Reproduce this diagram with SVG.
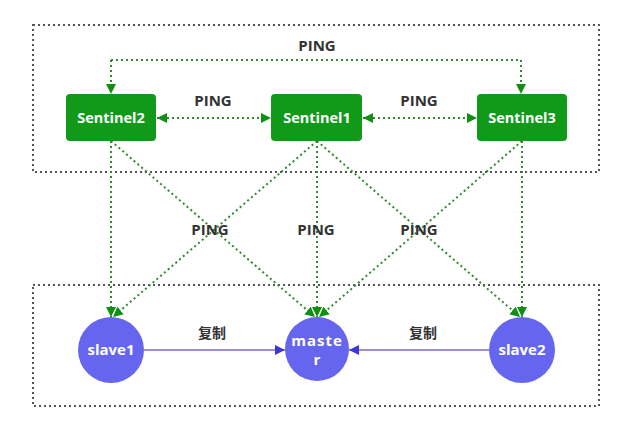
<svg xmlns="http://www.w3.org/2000/svg" width="643" height="423" viewBox="0 0 643 423">
  <style>
    .frame { fill: none; stroke: #555; stroke-width: 2; stroke-dasharray: 2 3; }
    .ping { fill: none; stroke: #2f8a2f; stroke-width: 2; stroke-dasharray: 2 3; }
    .sent rect { fill: #119a1a; }
    .sent text { fill: #fff; font: bold 14.5px "Open Sans", "Liberation Sans", sans-serif; text-anchor: middle; }
    .redis circle { fill: #6565f0; }
    .redis text { fill: #fff; font: bold 15px "Open Sans", "Liberation Sans", sans-serif; text-anchor: middle; }
    .lbl { fill: #333; font: bold 15px "Open Sans", "Liberation Sans", sans-serif; text-anchor: middle; }
    .cn { fill: #333; font: bold 14px "Noto Sans CJK SC", sans-serif; text-anchor: middle; }
    .repl { stroke: #9a90d8; stroke-width: 2; fill: none; }
  </style>
  <defs>
    <marker id="g" viewBox="0 0 10 10" refX="10" refY="5" markerWidth="10" markerHeight="10" markerUnits="userSpaceOnUse" orient="auto-start-reverse">
      <path d="M0,0 L10,5 L0,10 z" fill="#109010"/>
    </marker>
    <marker id="b" viewBox="0 0 10 10" refX="10" refY="5" markerWidth="10" markerHeight="10" markerUnits="userSpaceOnUse" orient="auto">
      <path d="M0,0 L10,5 L0,10 z" fill="#3b36d6"/>
    </marker>
  </defs>

  <rect width="643" height="423" fill="#fff"/>

  <!-- group frames -->
  <rect class="frame" x="33" y="25" width="566" height="147"/>
  <rect class="frame" x="33" y="285" width="566" height="121"/>

  <g id="connectors">
    <!-- sentinel to sentinel -->
    <path class="ping" d="M111,60 H521" />
    <path class="ping" d="M111,60 V94" marker-end="url(#g)"/>
    <path class="ping" d="M521,60 V94" marker-end="url(#g)"/>
    <path class="ping" d="M157,118 H271" marker-start="url(#g)" marker-end="url(#g)"/>
    <path class="ping" d="M363,118 H477" marker-start="url(#g)" marker-end="url(#g)"/>
    <!-- sentinel to redis -->
    <path class="ping" d="M111,141 L111,317" marker-end="url(#g)"/>
    <path class="ping" d="M111,141 L315,317" marker-end="url(#g)"/>
    <path class="ping" d="M317,141 L113,317" marker-end="url(#g)"/>
    <path class="ping" d="M317,141 L317,317" marker-end="url(#g)"/>
    <path class="ping" d="M317,141 L520,317" marker-end="url(#g)"/>
    <path class="ping" d="M522,141 L319,317" marker-end="url(#g)"/>
    <path class="ping" d="M522,141 L522,317" marker-end="url(#g)"/>
    <!-- replication -->
    <path class="repl" d="M144,350 H285" marker-end="url(#b)"/>
    <path class="repl" d="M489,350 H349" marker-end="url(#b)"/>
  </g>

  <g id="labels">
    <text class="lbl" x="317" y="51">PING</text>
    <text class="lbl" x="213" y="106">PING</text>
    <text class="lbl" x="419" y="106">PING</text>
    <text class="lbl" x="210" y="235">PING</text>
    <text class="lbl" x="316" y="235">PING</text>
    <text class="lbl" x="419" y="235">PING</text>
    <text class="cn" x="212" y="338">复制</text>
    <text class="cn" x="423" y="338">复制</text>
  </g>

  <g id="sentinel2" class="sent">
    <rect x="66" y="94" width="90" height="47" rx="4"/>
    <text x="111" y="123">Sentinel2</text>
  </g>
  <g id="sentinel1" class="sent">
    <rect x="271" y="94" width="91" height="47" rx="4"/>
    <text x="317" y="123">Sentinel1</text>
  </g>
  <g id="sentinel3" class="sent">
    <rect x="477" y="94" width="90" height="47" rx="4"/>
    <text x="522" y="123">Sentinel3</text>
  </g>

  <g id="slave1" class="redis">
    <circle cx="111" cy="350" r="33"/>
    <text x="111" y="355">slave1</text>
  </g>
  <g id="master" class="redis">
    <circle cx="317" cy="349" r="32"/>
    <text x="317" y="346" letter-spacing="1">maste</text>
    <text x="317" y="365">r</text>
  </g>
  <g id="slave2" class="redis">
    <circle cx="522" cy="350" r="33"/>
    <text x="522" y="355">slave2</text>
  </g>
</svg>
